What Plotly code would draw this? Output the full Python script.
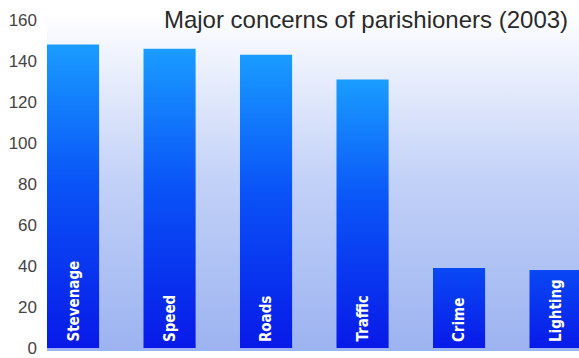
import plotly.graph_objects as go

# Survey results
categories = ["Stevenage", "Speed", "Roads", "Traffic", "Crime", "Lighting"]
responses = [148, 146, 143, 131, 39, 38]
y_ticks = [0, 20, 40, 60, 80, 100, 120, 140, 160]

BAR_WIDTH = 0.54
X_RANGE = [-0.27, 5.243]
Y_RANGE = [-1.45, 163.87]

fig = go.Figure()

# plot-area background: white at the top fading to pale blue at the bottom
fig.add_trace(go.Scatter(
    x=[X_RANGE[0], X_RANGE[1], X_RANGE[1], X_RANGE[0], X_RANGE[0]],
    y=[Y_RANGE[0], Y_RANGE[0], Y_RANGE[1], Y_RANGE[1], Y_RANGE[0]],
    mode="lines", fill="toself",
    line=dict(width=0, color="rgba(0,0,0,0)"),
    fillgradient=dict(type="vertical",
                      colorscale=[[0, "#9cb3f1"], [0.5, "#c2d1f7"], [1, "#ffffff"]]),
    hoverinfo="skip", showlegend=False,
))

# gradient-filled bars
for i, (name, val) in enumerate(zip(categories, responses)):
    x0, x1 = i - BAR_WIDTH / 2, i + BAR_WIDTH / 2
    fig.add_trace(go.Scatter(
        x=[x0, x1, x1, x0, x0],
        y=[0, 0, val, val, 0],
        mode="lines", fill="toself",
        line=dict(width=0, color="rgba(0,0,0,0)"),
        fillgradient=dict(type="vertical", start=0, stop=max(val, 90),
                          colorscale=[[0, "#0818e8"], [0.55, "#0a54f7"], [1, "#1a9cff"]]),
        name=name, showlegend=False,
    ))
    fig.add_annotation(
        x=i, y=0, text=f"<b>{name}</b>", textangle=-90,
        xanchor="center", yanchor="bottom", yshift=4, showarrow=False,
        font=dict(family="Liberation Sans Narrow, DejaVu Sans Condensed, Liberation Sans",
                  size=15, color="white"),
    )

fig.update_layout(
    width=579, height=358,
    margin=dict(l=47, r=0, t=12, b=4),
    paper_bgcolor="white", plot_bgcolor="white",
    title=dict(text="Major concerns of parishioners (2003)",
               x=366 / 579, xanchor="center", y=1 - 20 / 358, yanchor="middle",
               font=dict(family="Liberation Sans, Arial", size=24, color="#2a2a2a")),
    xaxis=dict(range=X_RANGE, showticklabels=False, showgrid=False,
               zeroline=False, showline=False, fixedrange=True),
    yaxis=dict(range=Y_RANGE, tickvals=y_ticks, ticktext=[str(t) for t in y_ticks],
               showgrid=False, zeroline=False, showline=False, ticks="",
               ticklabelstandoff=9, ticklabeloverflow="allow",
               tickfont=dict(family="Liberation Sans, Arial", size=17, color="#444444")),
)

fig.write_html("out.html")
